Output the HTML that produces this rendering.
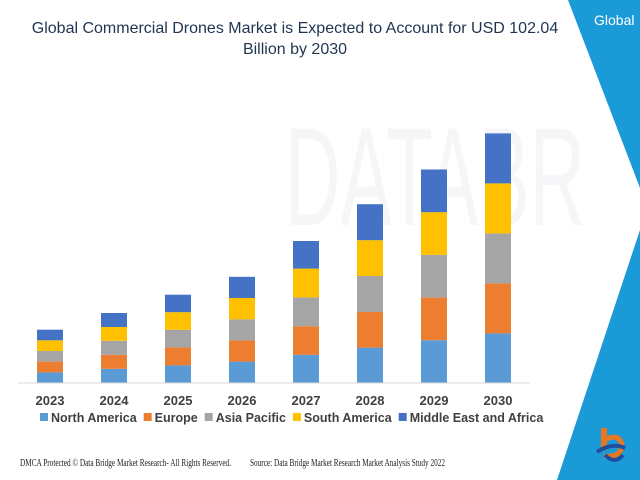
<!DOCTYPE html>
<html><head><meta charset="utf-8"><style>
body{margin:0;width:640px;height:480px;overflow:hidden;background:#fff;position:relative;font-family:"Liberation Sans",sans-serif}
#title{position:absolute;left:0;width:590px;top:18px;text-align:center;font-size:16px;line-height:21px;color:#1f3550}
#hdr{position:absolute;left:594px;top:12px;color:#fff;font-size:14px}
</style></head><body>
<svg width="640" height="480" style="position:absolute;left:0;top:0">
<text x="285" y="225" font-size="140" fill="#f6f6f8" font-family="Liberation Sans" textLength="300" lengthAdjust="spacingAndGlyphs">DATABR</text>
<polygon points="568,0 640,0 640,188" fill="#1a9ad6"/>
<polygon points="640,230 640,480 557,480" fill="#1a9ad6"/>
<g id="bars"></g>
<line x1="18" y1="383" x2="530" y2="383" stroke="#d9d9d9"/>
<g id="xlabels"></g>
<g id="legend"></g>
<text x="20" y="466" font-family="Liberation Serif" font-size="10" fill="#222" textLength="211" lengthAdjust="spacingAndGlyphs">DMCA Protected © Data Bridge Market Research- All Rights Reserved.</text>
<text x="250" y="466" font-family="Liberation Serif" font-size="10" fill="#222" textLength="195" lengthAdjust="spacingAndGlyphs">Source: Data Bridge Market Research Market Analysis Study 2022</text>
<g><rect x="601" y="428" width="6" height="22" fill="#e87722"/><path d="M604 440 q16 -8 18 6 q-2 12 -18 10" fill="none" stroke="#e87722" stroke-width="5"/><path d="M597 452 q15 -10 28 -4" fill="none" stroke="#1f4e9c" stroke-width="4"/><path d="M605 455 q10 10 18 0" fill="none" stroke="#1f4e9c" stroke-width="4"/></g>
</svg>
<div id="title">Global Commercial Drones Market is Expected to Account for USD 102.04<br>Billion by 2030</div>
<div id="hdr">Global</div>
<script>
const categories=["2023","2024","2025","2026","2027","2028","2029","2030"];
const seriesNames=["North America","Europe","Asia Pacific","South America","Middle East and Africa"];
const northAmerica=[10.6,14.2,17.6,21.4,28.2,35.4,42.8,49.6];
const europe=[10.8,14.0,18.0,21.2,28.6,35.6,42.6,50.0];
const asiaPacific=[10.6,14.0,17.6,21.0,28.8,36.0,42.7,50.0];
const southAmerica=[10.7,13.8,17.6,21.4,28.8,35.8,42.7,50.0];
const middleEastAfrica=[10.6,14.0,17.5,21.2,27.6,36.0,42.7,50.0];
const colors=["#5b9bd5","#ed7d31","#a5a5a5","#ffc000","#4472c4"];
const series=[northAmerica,europe,asiaPacific,southAmerica,middleEastAfrica];
const NS="http://www.w3.org/2000/svg";
const base=383,pxPerUnit=1.0,x0=50,step=64,bw=26;
function xScale(i){return x0+i*step;}
function yScale(v){return base-v*pxPerUnit;}
const g=document.getElementById('bars');
categories.forEach((c,i)=>{let cum=0;series.forEach((s,k)=>{
const r=document.createElementNS(NS,'rect');
const y1=yScale(cum+s[i]),y0=yScale(cum);
r.setAttribute('x',xScale(i)-bw/2);r.setAttribute('y',y1);r.setAttribute('width',bw);r.setAttribute('height',y0-y1);r.setAttribute('fill',colors[k]);


g.appendChild(r);cum+=s[i];});});
const xl=document.getElementById('xlabels');
categories.forEach((c,i)=>{const t=document.createElementNS(NS,'text');
t.setAttribute('x',xScale(i));t.setAttribute('y',405);t.setAttribute('text-anchor','middle');t.setAttribute('font-size','13');t.setAttribute('font-weight','bold');t.setAttribute('fill','#404040');t.textContent=c;


xl.appendChild(t);});
const lg=document.getElementById('legend');let lx=40;
seriesNames.forEach((n,k)=>{const r=document.createElementNS(NS,'rect');
r.setAttribute('x',lx);r.setAttribute('y',413);r.setAttribute('width',8);r.setAttribute('height',8);r.setAttribute('fill',colors[k]);


lg.appendChild(r);
const t=document.createElementNS(NS,'text');t.setAttribute('x',lx+11);t.setAttribute('y',422);t.setAttribute('font-size','12.5');t.setAttribute('font-weight','bold');t.setAttribute('fill','#404040');t.textContent=n;


lg.appendChild(t);lx+=11+t.getComputedTextLength()+7;});
</script>
</body></html>
